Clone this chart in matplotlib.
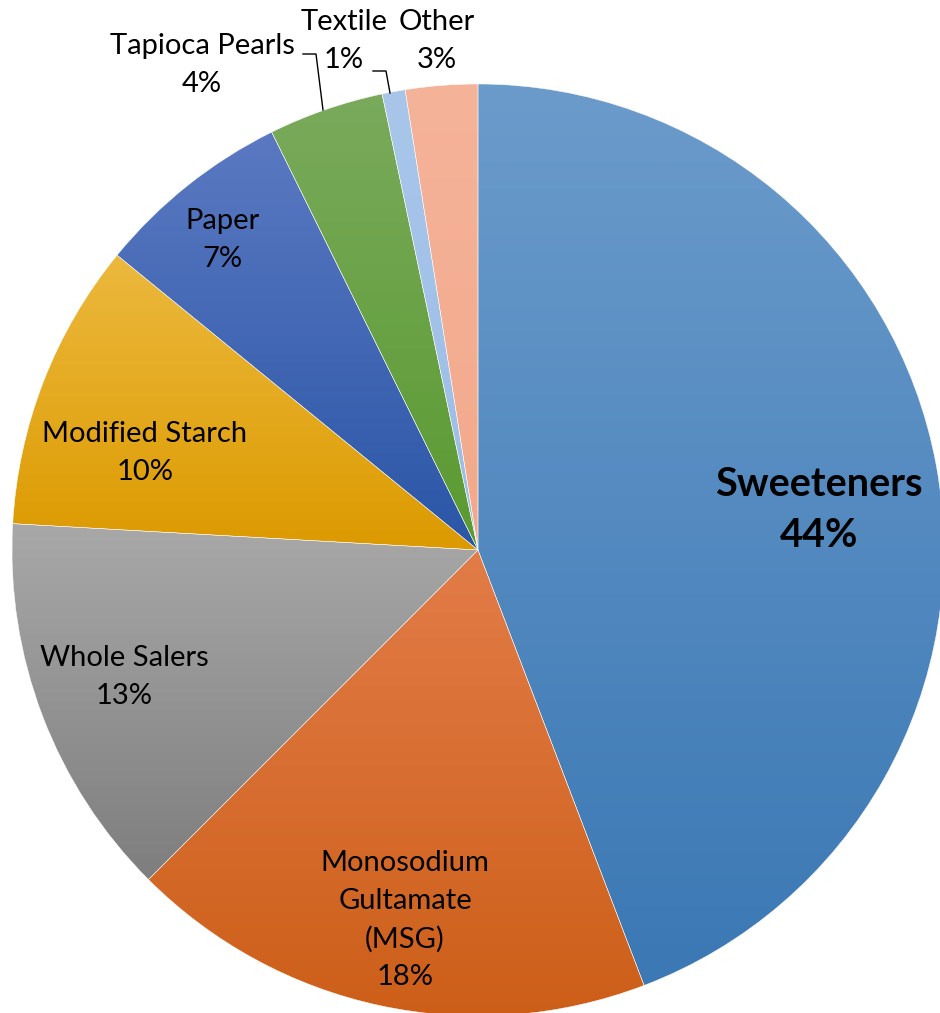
import matplotlib.pyplot as plt
import numpy as np
from matplotlib.colors import LinearSegmentedColormap

plt.rcParams['font.family'] = ['Lato', 'DejaVu Sans']

# slices, clockwise from 12 o'clock
labels = ["Sweeteners", "Monosodium\nGultamate\n(MSG)", "Whole Salers", "Modified Starch",
          "Paper", "Tapioca Pearls", "Textile", "Other"]
values = [44.2, 18.3, 13.4, 10.0, 6.8, 4.0, 0.8, 2.5]
pct_text = ["44%", "18%", "13%", "10%", "7%", "4%", "1%", "3%"]
# gradient colours, top -> bottom
top_colors = ["#6b9bcb", "#e27c48", "#a8a8a8", "#ecb93e", "#5b79c2", "#7aaa5c", "#a9c6ea", "#f5b39a"]
bot_colors = ["#3b78b4", "#cc5e17", "#7e7e7e", "#dc9a00", "#2a56a6", "#5a9a30", "#9cbde6", "#f2a98a"]

W, H = 940, 1013
fig = plt.figure(figsize=(W / 100, H / 100), dpi=100)
ax = fig.add_axes([0, 0, 1, 1])

cx, cy, R = 478, H - 550, 466
wedges, _ = ax.pie(values, startangle=90, counterclock=False, center=(cx, cy), radius=R,
                   colors=bot_colors, wedgeprops=dict(edgecolor="white", linewidth=0.3))

grad = np.linspace(0, 1, 256).reshape(-1, 1)
for w, c0, c1 in zip(wedges, top_colors, bot_colors):
    v = w.get_path().vertices
    x0, x1 = v[:, 0].min(), v[:, 0].max()
    y0, y1 = v[:, 1].min(), v[:, 1].max()
    cmap = LinearSegmentedColormap.from_list("g", [c1, c0])
    im = ax.imshow(grad, cmap=cmap, extent=(x0, x1, y0, y1), origin="lower",
                   aspect="auto", zorder=w.get_zorder() + 0.1, interpolation="bilinear")
    im.set_clip_path(w)
    w.set_facecolor("none")
    w.set_zorder(w.get_zorder() + 0.2)

ax.set_xlim(0, W)
ax.set_ylim(0, H)
ax.set_aspect("auto")
ax.axis("off")

fs = 21
# label positions (pixel coords from top-left)
pos = [(819, 510), (405, 920), (124, 677), (145, 453), (222, 240), (202, 65), (344, 41), (437, 41)]
for i, (lab, p) in enumerate(zip(labels, pct_text)):
    x, y = pos[i]
    if i == 0:
        ax.text(x, H - y, lab + "\n" + p, ha="center", va="center", fontsize=28.5,
                fontweight="bold", linespacing=1.45)
    else:
        ax.text(x, H - y, lab + "\n" + p, ha="center", va="center", fontsize=fs,
                linespacing=1.55)

# leader lines
ax.plot([303, 316, 323], [H - 54, H - 54, H - 110], color="black", lw=1)
ax.plot([373, 386, 390], [H - 71, H - 71, H - 93], color="black", lw=1)

fig.savefig("out.png", dpi=100)
